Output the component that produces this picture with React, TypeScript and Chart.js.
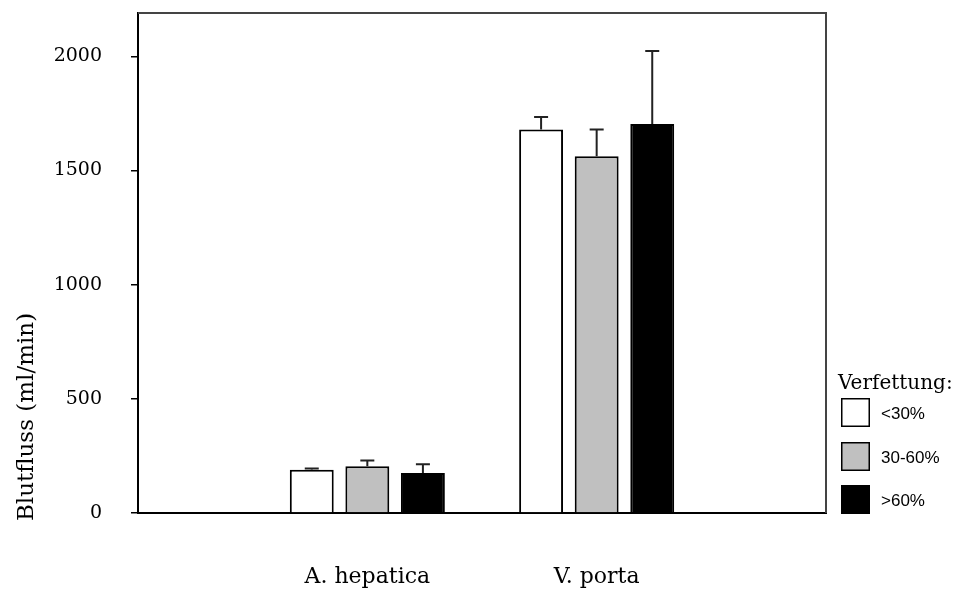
import React, { useEffect, useRef } from "react";
import { Chart, registerables } from "chart.js";

Chart.register(...registerables);

const categories = ["A. hepatica", "V. porta"];
const seriesLabels = ["<30%", "30-60%", ">60%"];
const lowValues = [189, 1680];
const lowErrors = [6, 55];
const midValues = [205, 1563];
const midErrors = [25, 117];
const highValues = [175, 1704];
const highErrors = [39, 320];
const yTickValues = [0, 500, 1000, 1500, 2000];
const yTitle = "Blutfluss (ml/min)";
const legendTitle = "Verfettung:";

const SERIF = "'DejaVu Serif', 'Liberation Serif', serif";
const SANS = "'Liberation Sans', Arial, sans-serif";

const errorBarPlugin = {
  id: "errorBars",
  afterDatasetsDraw(chart: any) {
    const ctx = chart.ctx;
    const yScale = chart.scales.y;
    chart.data.datasets.forEach((ds: any, di: number) => {
      const meta = chart.getDatasetMeta(di);
      meta.data.forEach((el: any, i: number) => {
        const v = ds.data[i];
        const e = ds.errors ? ds.errors[i] : null;
        if (v == null || e == null) return;
        const yTop = yScale.getPixelForValue(v);
        const yErr = yScale.getPixelForValue(v + e);
        ctx.save();
        ctx.strokeStyle = "#222";
        ctx.lineWidth = 2;
        ctx.beginPath();
        ctx.moveTo(el.x, yTop);
        ctx.lineTo(el.x, yErr);
        ctx.moveTo(el.x - 7, yErr);
        ctx.lineTo(el.x + 7, yErr);
        ctx.stroke();
        ctx.restore();
      });
    });
  },
};

const framePlugin = {
  id: "frameAndLabels",
  afterDraw(chart: any) {
    const ctx = chart.ctx;
    const a = chart.chartArea;
    ctx.save();
    ctx.strokeStyle = "#444";
    ctx.lineWidth = 2;
    ctx.beginPath();
    ctx.moveTo(a.left, a.top);
    ctx.lineTo(a.right, a.top);
    ctx.lineTo(a.right, a.bottom);
    ctx.stroke();

    ctx.fillStyle = "#000";
    ctx.font = `23px ${SERIF}`;
    ctx.textAlign = "center";
    ctx.textBaseline = "middle";
    ctx.translate(27, 417);
    ctx.rotate(-Math.PI / 2);
    ctx.fillText(yTitle, 0, 0);
    ctx.restore();

    ctx.save();
    ctx.fillStyle = "#000";
    ctx.font = `20px ${SERIF}`;
    ctx.textAlign = "left";
    ctx.textBaseline = "alphabetic";
    ctx.fillText(legendTitle, 838, 389);
    const boxX = 841;
    const boxTops = [398, 442, 485];
    chart.data.datasets.forEach((ds: any, i: number) => {
      const y = boxTops[i];
      ctx.fillStyle = ds.backgroundColor;
      ctx.fillRect(boxX, y, 29, 29);
      ctx.strokeStyle = "#000";
      ctx.lineWidth = 1.5;
      ctx.strokeRect(boxX + 0.75, y + 0.75, 27.5, 27.5);
      ctx.fillStyle = "#000";
      ctx.font = `17px ${SANS}`;
      ctx.textBaseline = "middle";
      ctx.fillText(ds.label, 881, y + 16);
    });
    ctx.restore();
  },
};

export default function App() {
  const ref = useRef<HTMLCanvasElement>(null);
  useEffect(() => {
    if (!ref.current) return;
    const pad = (arr: number[]) => [null, ...arr, null];
    const chart = new Chart(ref.current, {
      type: "bar",
      data: {
        labels: ["", ...categories, ""],
        datasets: [
          { label: seriesLabels[0], data: pad(lowValues), errors: pad(lowErrors), backgroundColor: "#ffffff" } as any,
          { label: seriesLabels[1], data: pad(midValues), errors: pad(midErrors), backgroundColor: "#c0c0c0" } as any,
          { label: seriesLabels[2], data: pad(highValues), errors: pad(highErrors), backgroundColor: "#000000" } as any,
        ].map((d: any) => ({
          ...d,
          borderColor: "#000",
          borderWidth: 2,
          categoryPercentage: 0.727,
          barPercentage: 0.79,
        })),
      },
      options: {
        animation: false,
        responsive: false,
        devicePixelRatio: 1,
        layout: { padding: { left: 0, right: 132, top: 13, bottom: 0 } },
        plugins: { legend: { display: false }, tooltip: { enabled: false } },
        scales: {
          x: {
            type: "category",
            offset: false,
            grid: { display: false, drawTicks: false },
            border: { display: true, color: "#000", width: 2 },
            ticks: {
              color: "#000",
              font: { family: SERIF, size: 22 },
              padding: 51,
              autoSkip: false,
              maxRotation: 0,
            },
            afterFit: (s: any) => {
              s.height = 77;
              s.paddingLeft = 0;
              s.paddingRight = 0;
            },
          },
          y: {
            min: 0,
            max: 2190,
            grid: { drawOnChartArea: false, drawTicks: true, tickLength: 7, color: "#000", lineWidth: 1.5 },
            border: { display: true, color: "#000", width: 2 },
            ticks: {
              color: "#000",
              font: { family: SERIF, size: 19 },
              padding: 29,
              callback: (v: any) => String(v),
            },
            afterBuildTicks: (s: any) => {
              s.ticks = yTickValues.map((v) => ({ value: v }));
            },
            afterFit: (s: any) => {
              s.width = 138;
              s.paddingTop = 0;
              s.paddingBottom = 0;
            },
          },
        },
      },
      plugins: [errorBarPlugin, framePlugin],
    } as any);
    return () => chart.destroy();
  }, []);
  return (
    <div style={{ position: "fixed", left: 0, top: 0, width: 958, height: 590, background: "#fff" }}>
      <canvas ref={ref} width={958} height={590} />
    </div>
  );
}
